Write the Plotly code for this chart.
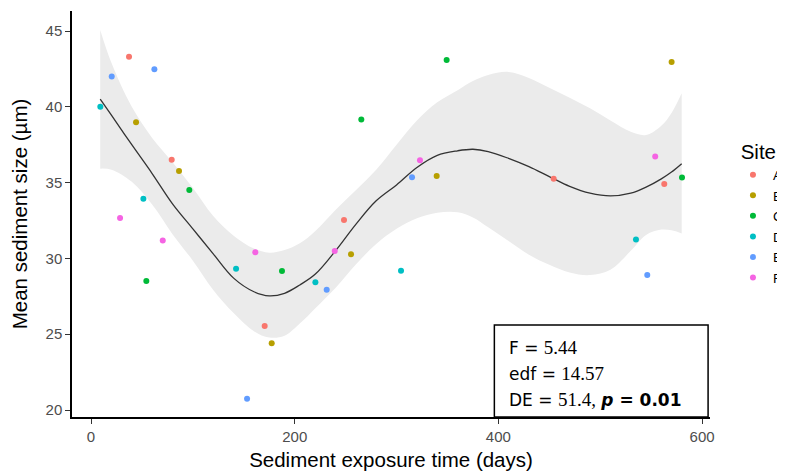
import plotly.graph_objects as go

# ---------------- data ----------------
sites = ["A", "B", "C", "D", "E", "F"]
site_colors = ["#F8766D", "#B79F00", "#00BA38", "#00BFC4", "#619CFF", "#F564E3"]

days_A = [37.3, 79.2, 170.5, 248.4, 454.3, 562.9]
size_A = [43.3, 36.51, 25.54, 32.53, 35.26, 34.91]
days_B = [44.2, 86.4, 177.4, 255.3, 339.4, 570.1]
size_B = [38.98, 35.77, 24.4, 30.27, 35.44, 42.96]
days_C = [54.3, 96.5, 187.5, 265.4, 349.2, 580.3]
size_C = [28.51, 34.51, 29.17, 39.17, 43.09, 35.33]
days_D = [9.1, 51.4, 142.4, 220.3, 304.4, 535.1]
size_D = [40.0, 33.94, 29.32, 28.42, 29.19, 31.24]
days_E = [20.3, 62.2, 153.2, 231.4, 315.2, 546.2]
size_E = [42.0, 42.47, 20.75, 27.94, 35.35, 28.91]
days_F = [28.5, 70.4, 161.3, 239.3, 323.0, 554.0]
size_F = [32.66, 31.19, 30.4, 30.49, 36.47, 36.73]

site_days = [days_A, days_B, days_C, days_D, days_E, days_F]
site_sizes = [size_A, size_B, size_C, size_D, size_E, size_F]

# smoother
fit_days = [9, 20, 40, 60, 80, 100, 120, 140, 160, 175, 190, 205, 220, 240, 260,
            280, 300, 320, 340, 360, 375, 390, 410, 430, 450, 470, 490, 510, 530,
            545, 560, 570, 580]
fit_mean = [40.5, 39.45, 37.5, 35.6, 33.6, 31.95, 30.3, 28.7, 27.8, 27.53, 27.7,
            28.25, 28.95, 30.5, 32.25, 33.8, 34.85, 36.0, 36.8, 37.1, 37.2, 37.05,
            36.6, 36.05, 35.4, 34.75, 34.3, 34.12, 34.3, 34.7, 35.25, 35.7, 36.25]
fit_upper = [45.07, 42.9, 40.0, 37.95, 36.35, 34.65, 32.8, 31.5, 30.65, 30.38, 30.55,
             31.0, 31.8, 33.2, 34.5, 35.85, 37.5, 39.1, 40.3, 41.1, 41.7, 42.1,
             42.3, 41.9, 41.25, 40.6, 39.9, 39.1, 38.35, 38.14, 38.75, 39.6, 40.9]
fit_lower = [35.92, 35.85, 35.05, 33.55, 31.6, 29.85, 27.92, 26.4, 25.2, 24.78, 24.9,
             25.7, 26.7, 28.05, 29.6, 30.95, 31.95, 32.65, 33.02, 33.05, 32.7, 32.05,
             31.15, 30.25, 29.58, 29.07, 28.9, 29.25, 30.5, 31.55, 31.9, 31.85, 31.65]

x_ticks = [0, 200, 400, 600]
y_ticks = [20, 25, 30, 35, 40, 45]

stat_F = "5.44"
stat_edf = "14.57"
stat_DE = "51.4"
stat_p = "0.01"

# ---------------- figure ----------------
fig = go.Figure()

fig.add_trace(go.Scatter(x=fit_days, y=fit_lower, mode="lines", line=dict(width=0, shape="spline"),
                         hoverinfo="skip", showlegend=False))
fig.add_trace(go.Scatter(x=fit_days, y=fit_upper, mode="lines", line=dict(width=0, shape="spline"),
                         fill="tonexty", fillcolor="#EBEBEB", hoverinfo="skip", showlegend=False))
fig.add_trace(go.Scatter(x=fit_days, y=fit_mean, mode="lines",
                         line=dict(color="#333333", width=1.3, shape="spline"),
                         showlegend=False))

for s, c, xd, yd in zip(sites, site_colors, site_days, site_sizes):
    fig.add_trace(go.Scatter(x=xd, y=yd, mode="markers", name=s,
                             marker=dict(color=c, size=6)))

axis_common = dict(showgrid=False, zeroline=False, showline=True, linecolor="black",
                   linewidth=1.5, ticks="outside", ticklen=5, tickwidth=1.2,
                   tickcolor="#333333", tickfont=dict(family="Liberation Sans", size=15, color="#4D4D4D"))

fig.update_xaxes(range=[-18.7, 607.8], tickvals=x_ticks, **axis_common,
                 title=dict(text="Sediment exposure time (days)",
                            font=dict(family="Liberation Sans", size=20.5, color="black"),
                            standoff=9))
fig.update_yaxes(range=[19.54, 46.32], tickvals=y_ticks, **axis_common,
                 title=dict(text="Mean sediment size (µm)",
                            font=dict(family="Liberation Sans", size=20.5, color="black"),
                            standoff=12))

# stats box
fig.add_shape(type="rect", xref="paper", yref="paper", x0=0.662, x1=0.997, y0=0.0, y1=0.2266,
              line=dict(color="black", width=1.5), fillcolor="white", layer="above")

sans = "DejaVu Sans"
serif = "Liberation Serif"
lines = [
    f'F = <span style="font-family:{serif};font-size:19px">{stat_F}</span>',
    f'edf = <span style="font-family:{serif};font-size:19px">{stat_edf}</span>',
    f'DE = <span style="font-family:{serif};font-size:19px">{stat_DE},</span> '
    f'<b><i>p</i> = {stat_p}</b>',
]
ys = [0.172, 0.108, 0.042]
for t, yy in zip(lines, ys):
    fig.add_annotation(text=t, xref="paper", yref="paper", x=0.682, y=yy, xanchor="left",
                       yanchor="middle", showarrow=False, align="left",
                       font=dict(family=sans, size=17, color="black"))

fig.update_layout(
    width=785, height=474,
    margin=dict(l=64, r=83, t=3, b=65, autoexpand=False),
    plot_bgcolor="white", paper_bgcolor="white",
    legend=dict(title=dict(text="\u00a0Site", font=dict(family="Liberation Sans", size=20.5, color="black")),
                font=dict(family="Liberation Sans", size=13.5, color="black"),
                x=1.036, xanchor="left", y=0.70, yanchor="top",
                itemwidth=30, tracegroupgap=0, traceorder="normal"),
    showlegend=True,
)

fig.write_html("out.html")
